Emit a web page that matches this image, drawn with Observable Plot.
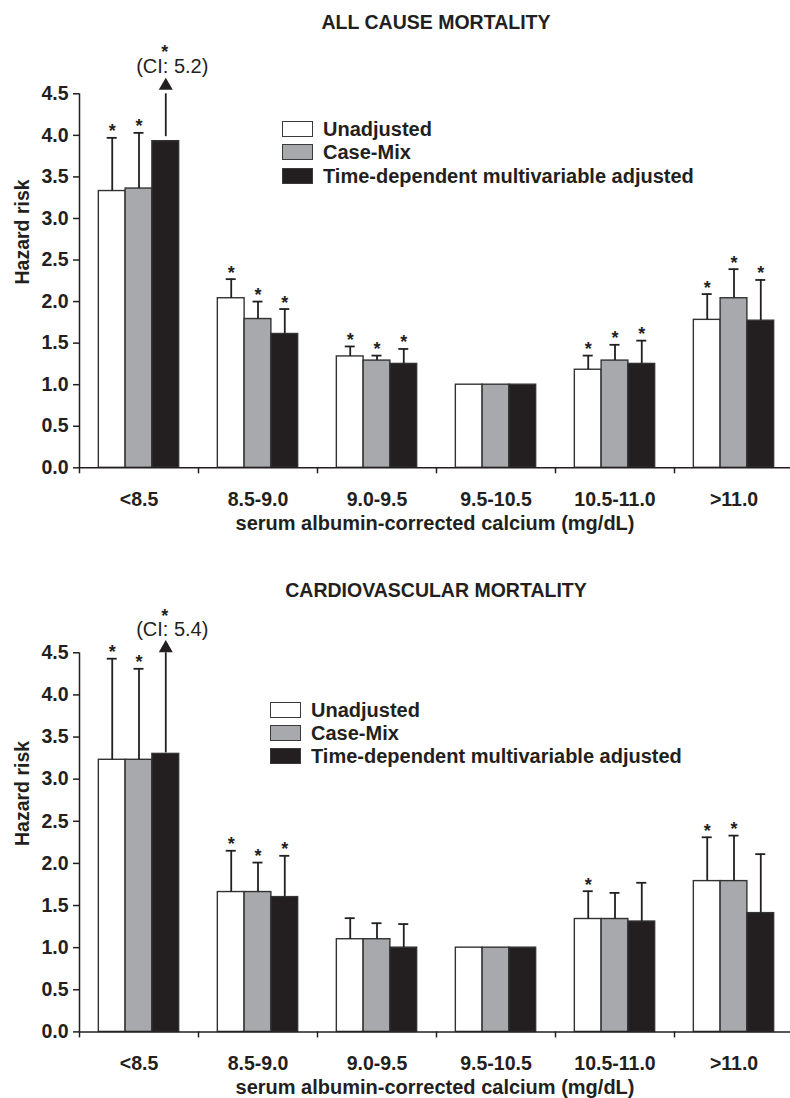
<!DOCTYPE html>
<html>
<head>
<meta charset="utf-8">
<script src="https://cdn.jsdelivr.net/npm/d3@7"></script>
<script src="https://cdn.jsdelivr.net/npm/@observablehq/plot@0.6"></script>
<style>
  body { margin: 0; background: #fff; }
  #root { position: relative; width: 790px; height: 1098px; overflow: hidden;
          font-family: "Liberation Sans", Arial, Helvetica, sans-serif; color: #231f20; }
  .panel { position: absolute; left: 0; width: 790px; }
  .title { position: absolute; left: 79px; width: 714px; text-align: center;
           font-weight: bold; font-size: 19.5px; line-height: 19.5px; white-space: nowrap; }
  .legend { position: absolute; font-weight: bold; font-size: 20px; }
  .legend .row { position: absolute; left: 0; height: 16px; white-space: nowrap; }
  .legend .sw { position: absolute; left: 0; top: 0; width: 31px; height: 16px;
                box-sizing: border-box; border: 1.5px solid #3a3a3a; }
  .legend .lab { position: absolute; left: 41px; top: 0; line-height: 16px; }
</style>
</head>
<body>
<div id="root"></div>
<script>
// ---------------- data ----------------
const CATEGORIES = ["<8.5", "8.5-9.0", "9.0-9.5", "9.5-10.5", "10.5-11.0", ">11.0"];
const SERIES = ["Unadjusted", "Case-Mix", "Time-dependent multivariable adjusted"];
const SERIES_COLORS = ["#ffffff", "#a7a9ac", "#231f20"];
const Y_TICKS = [0, 0.5, 1, 1.5, 2, 2.5, 3, 3.5, 4, 4.5];
const Y_MAX = 4.5;
const X_TITLE = "serum albumin-corrected calcium (mg/dL)";
const Y_TITLE = "Hazard risk";

// All cause mortality: hazard ratios, upper confidence limits, significance (*)
const allCauseTitle = "ALL CAUSE MORTALITY";
const allUnadjusted = [3.33, 2.04, 1.34, 1.00, 1.18, 1.78];
const allCaseMix    = [3.36, 1.79, 1.29, 1.00, 1.29, 2.04];
const allTimeDep    = [3.93, 1.61, 1.25, 1.00, 1.25, 1.77];
const allUnadjustedUpper = [3.97, 2.27, 1.46, null, 1.35, 2.09];
const allCaseMixUpper    = [4.03, 2.00, 1.35, null, 1.48, 2.39];
const allTimeDepUpper    = [5.2, 1.91, 1.43, null, 1.53, 2.26];
const allUnadjustedSig = [1, 1, 1, 0, 1, 1];
const allCaseMixSig    = [1, 1, 1, 0, 1, 1];
const allTimeDepSig    = [1, 1, 1, 0, 1, 1];

// Cardiovascular mortality
const cvTitle = "CARDIOVASCULAR MORTALITY";
const cvUnadjusted = [3.23, 1.66, 1.10, 1.00, 1.34, 1.79];
const cvCaseMix    = [3.23, 1.66, 1.10, 1.00, 1.34, 1.79];
const cvTimeDep    = [3.30, 1.60, 1.00, 1.00, 1.31, 1.41];
const cvUnadjustedUpper = [4.43, 2.15, 1.35, null, 1.67, 2.31];
const cvCaseMixUpper    = [4.31, 2.01, 1.29, null, 1.65, 2.33];
const cvTimeDepUpper    = [5.4, 2.09, 1.28, null, 1.77, 2.11];
const cvUnadjustedSig = [1, 1, 0, 0, 1, 1];
const cvCaseMixSig    = [1, 1, 0, 0, 0, 1];
const cvTimeDepSig    = [1, 1, 0, 0, 0, 0];

// ---------------- helpers ----------------
function buildRows(values, uppers, sigs) {
  const rows = [];
  CATEGORIES.forEach((cat, ci) => {
    SERIES.forEach((s, si) => {
      rows.push({ci, si, cat, series: s, value: values[si][ci], upper: uppers[si][ci], sig: sigs[si][ci] === 1});
    });
  });
  return rows;
}

const BAR_W = 0.225; // bar width as a fraction of one category step
const xc = d => d.ci + 0.5 + (d.si - 1) * BAR_W;
const FONT = '"Liberation Sans", Arial, Helvetica, sans-serif';
const INK = "#231f20";

function makePlot(rows, L) {
  const H = L.height;
  const withCI = rows.filter(d => d.upper != null && d.upper <= Y_MAX);
  const trunc = rows.filter(d => d.upper != null && d.upper > Y_MAX);
  const sigIn = withCI.filter(d => d.sig);
  const sigTrunc = trunc.filter(d => d.sig);
  return Plot.plot({
    width: 790,
    height: H,
    marginLeft: 79,
    marginRight: 0,
    marginTop: L.yTop,
    marginBottom: H - L.yZero,
    x: {type: "linear", domain: [0, CATEGORIES.length], range: [79, 79 + 119 * CATEGORIES.length]},
    y: {domain: [0, Y_MAX]},
    color: {domain: SERIES, range: SERIES_COLORS},
    style: {fontFamily: FONT, color: INK, background: "transparent", overflow: "visible"},
    marks: [
      Plot.rectY(rows, {
        x1: d => xc(d) - BAR_W / 2, x2: d => xc(d) + BAR_W / 2,
        y1: 0, y2: "value", fill: "series", stroke: "#333333", strokeWidth: 1.4
      }),
      // error bars
      Plot.ruleX(withCI, {x: xc, y1: "value", y2: "upper", stroke: INK, strokeWidth: 1.8}),
      Plot.ruleY(withCI, {x1: xc, x2: xc, y: "upper", insetLeft: -5, insetRight: -5, stroke: INK, strokeWidth: 1.8}),
      // truncated CI with arrow
      Plot.ruleX(trunc, {x: xc, y1: "value", y2: () => Y_MAX, insetTop: L.arrowInset, stroke: INK, strokeWidth: 1.8}),
      Plot.dot(trunc, {x: xc, y: () => Y_MAX, symbol: "triangle", r: 5.2, fill: INK, stroke: "none", dy: L.arrowDy}),
      Plot.text(trunc, {x: xc, y: () => Y_MAX, text: d => `(CI: ${d.upper})`, dy: L.ciDy, dx: 6.5,
        fontSize: 20, fontWeight: "normal", fill: INK}),
      // significance marks
      Plot.text(sigIn, {x: xc, y: "upper", text: () => "*", dy: -6.3, fontSize: 18, fontWeight: "bold", fill: INK}),
      Plot.text(sigTrunc, {x: xc, y: () => Y_MAX, text: () => "*", dy: L.starDy, dx: -1, fontSize: 18, fontWeight: "bold", fill: INK}),
      // axes
      Plot.ruleY([0], {stroke: INK, strokeWidth: 1.5}),
      Plot.ruleX([0], {y1: 0, y2: Y_MAX, stroke: INK, strokeWidth: 1.5}),
      Plot.axisY({ticks: Y_TICKS, tickFormat: d => d.toFixed(1), tickSize: 6, tickPadding: 5,
        fontSize: 19.5, fontWeight: "bold", label: null, stroke: INK, strokeWidth: 1.5, fill: INK}),
      Plot.axisX({ticks: d3.range(CATEGORIES.length), tickFormat: () => "", tickSize: 6,
        label: null, stroke: INK, strokeWidth: 1.5}),
      Plot.axisX({ticks: CATEGORIES.map((c, i) => i + 0.5), tickFormat: d => CATEGORIES[Math.floor(d)],
        tickSize: 0, tickPadding: 24.5, fontSize: 19.5, fontWeight: "bold", label: null, fill: INK}),
      Plot.text([X_TITLE], {frameAnchor: "bottom", text: d => d, lineAnchor: "top", dy: 47.7,
        fontSize: 20, fontWeight: "bold", fill: INK}),
      Plot.text([Y_TITLE], {frameAnchor: "left", text: d => d, rotate: -90, dx: -57, dy: 3.7,
        fontSize: 19.5, fontWeight: "bold", fill: INK})
    ]
  });
}

function legend(left, top) {
  const lg = document.createElement("div");
  lg.className = "legend";
  lg.style.left = left + "px";
  lg.style.top = top + "px";
  SERIES.forEach((s, i) => {
    const row = document.createElement("div");
    row.className = "row";
    row.style.top = (i * 23.3) + "px";
    const sw = document.createElement("div");
    sw.className = "sw";
    sw.style.background = SERIES_COLORS[i];
    const lab = document.createElement("div");
    lab.className = "lab";
    lab.textContent = s;
    row.appendChild(sw); row.appendChild(lab);
    lg.appendChild(row);
  });
  return lg;
}

function panel(top, title, titleTop, rows, L, legendPos) {
  const root = document.getElementById("root");
  const p = document.createElement("div");
  p.className = "panel";
  p.style.top = top + "px";
  p.style.height = L.height + "px";
  p.appendChild(makePlot(rows, L));
  const t = document.createElement("div");
  t.className = "title";
  t.style.top = titleTop + "px";
  t.textContent = title;
  p.appendChild(t);
  p.appendChild(legend(legendPos[0], legendPos[1]));
  p.querySelector("svg").style.position = "absolute";
  p.querySelector("svg").style.left = "0px";
  p.querySelector("svg").style.top = "0px";
  root.appendChild(p);
}

const allRows = buildRows([allUnadjusted, allCaseMix, allTimeDep],
  [allUnadjustedUpper, allCaseMixUpper, allTimeDepUpper],
  [allUnadjustedSig, allCaseMixSig, allTimeDepSig]);
const cvRows = buildRows([cvUnadjusted, cvCaseMix, cvTimeDep],
  [cvUnadjustedUpper, cvCaseMixUpper, cvTimeDepUpper],
  [cvUnadjustedSig, cvCaseMixSig, cvTimeDepSig]);

panel(0, allCauseTitle, 12.5, allRows,
  {height: 549, yTop: 93.3, yZero: 467.3, arrowInset: -4.5, arrowDy: -8, ciDy: -27.5, starDy: -42},
  [282, 121]);
panel(549, cvTitle, 31.8, cvRows,
  {height: 549, yTop: 103.3, yZero: 482.4, arrowInset: -1, arrowDy: -4.6, ciDy: -23.5, starDy: -37},
  [270, 152.7]);
</script>
</body>
</html>
